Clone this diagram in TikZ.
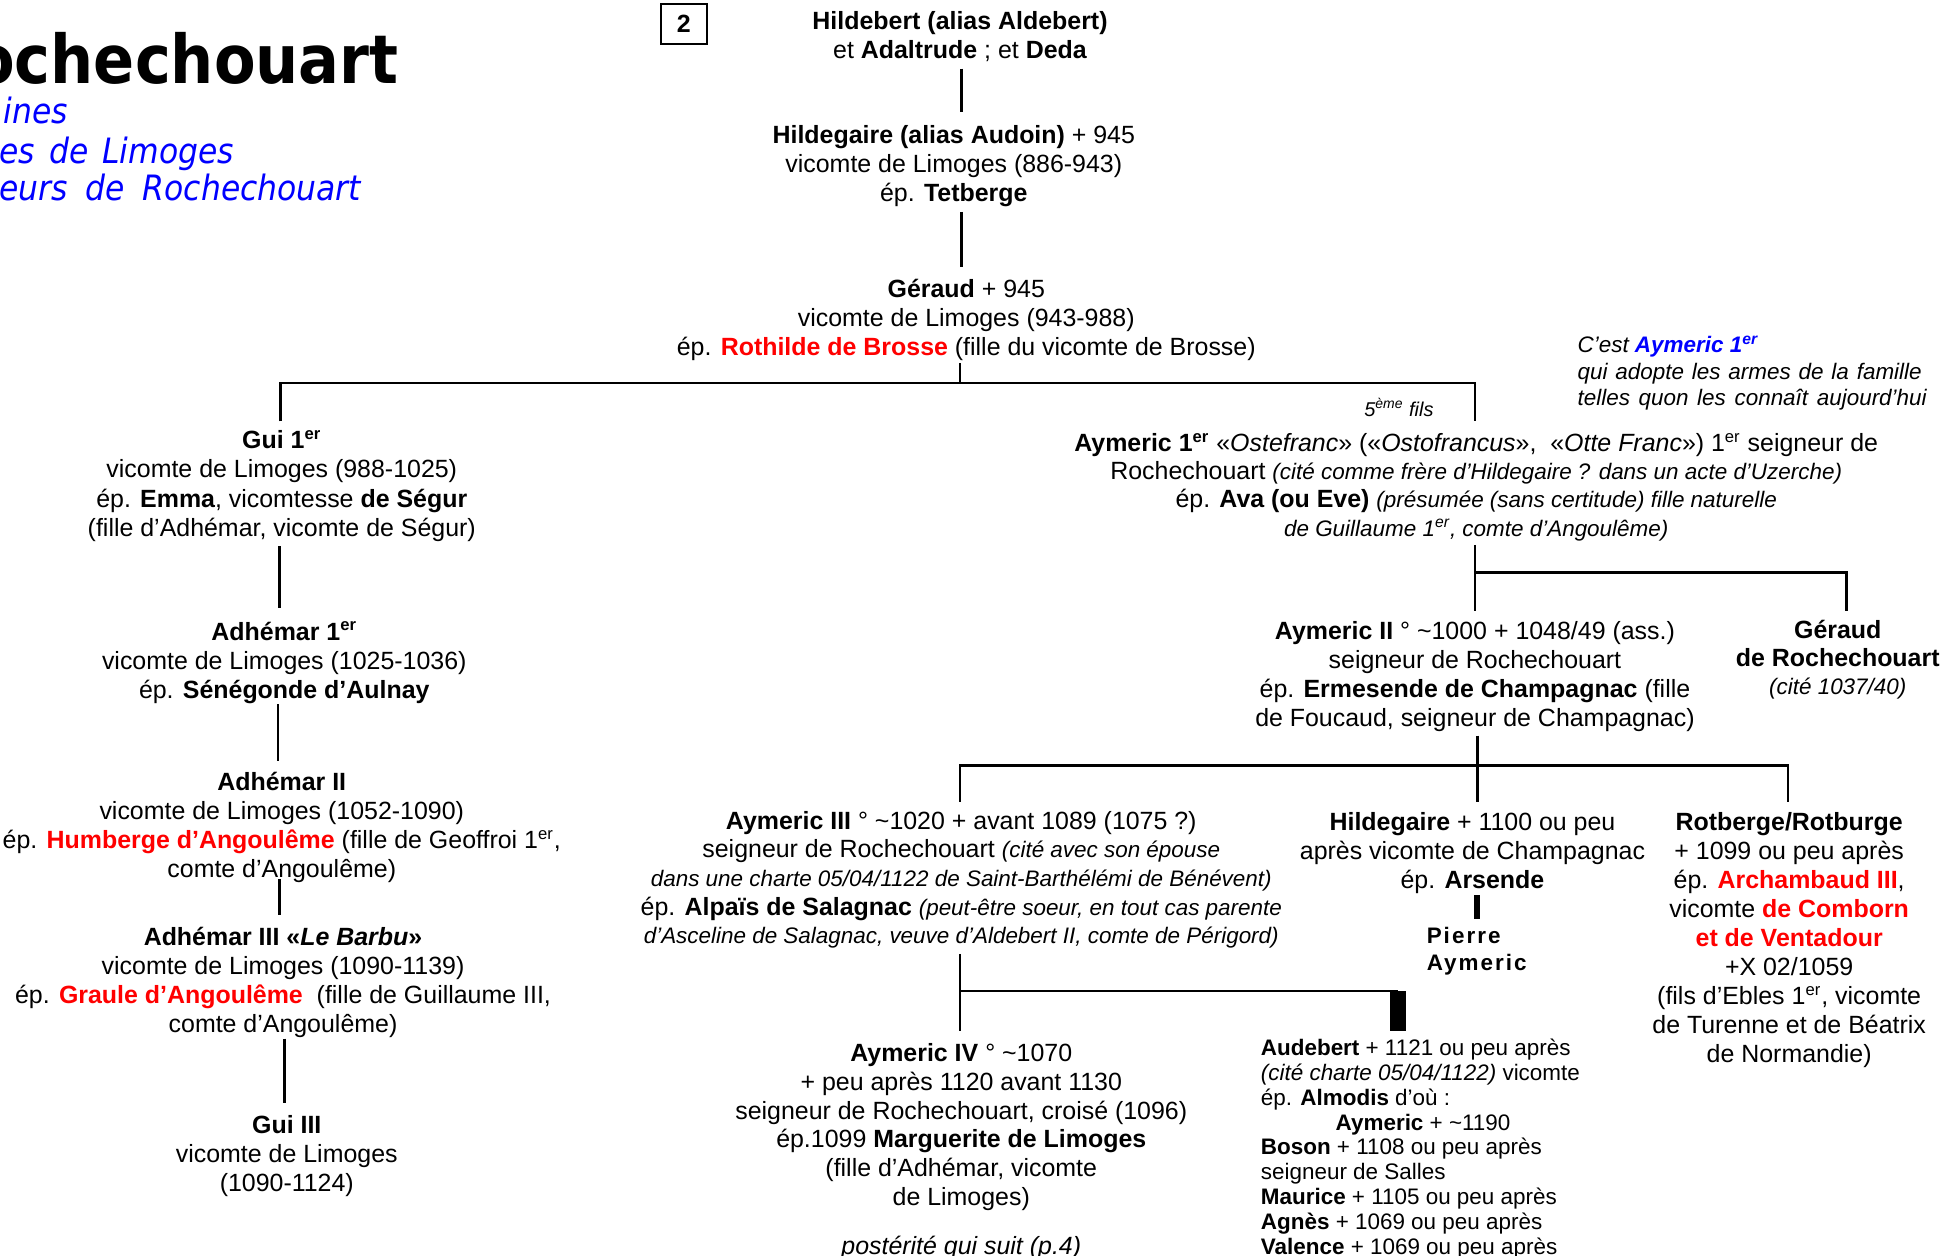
\documentclass[tikz,border=0pt]{standalone}
\usepackage{fontspec}
\setmainfont{Liberation Sans}
\newfontfamily\titlefont[FakeStretch=0.9]{DejaVu Sans}
\newfontfamily\spacedfont[LetterSpace=9]{Liberation Sans}
\definecolor{myred}{RGB}{255,0,0}
\definecolor{myblue}{RGB}{0,0,255}
\newcommand\rd[1]{\textcolor{myred}{\bfseries #1}}
\newcommand\sit[1]{{\fontsize{10.8}{14}\selectfont\itshape #1}}
\newcommand\supEr{\textsuperscript{er}}
\begin{document}
\begin{tikzpicture}[x=0.6pt,y=-0.6pt,
  person/.style={align=center, inner sep=0pt, anchor=base, font=\fontsize{12}{14}\selectfont},
  leftblock/.style={align=left, inner sep=0pt, anchor=base west},
  link/.style={line width=1.2pt}]
\useasboundingbox (0,0) rectangle (1556,1007);

% title
\node[anchor=base east, inner sep=0pt, font={\titlefont\bfseries\fontsize{32.4}{36}\selectfont}] (title) at (320,67) {ochechouart};
\node[anchor=base east, inner sep=0pt, text=myblue, font={\titlefont\itshape\fontsize{16.8}{20}\selectfont}] (sub1) at (55,99) {ines};
\node[anchor=base east, inner sep=0pt, text=myblue, font={\titlefont\itshape\fontsize{16.8}{20}\selectfont}] (sub2) at (188,131) {\makebox[112.8pt][s]{es de Limoges}};
\node[anchor=base east, inner sep=0pt, text=myblue, font={\titlefont\itshape\fontsize{16.8}{20}\selectfont}] (sub3) at (290,161) {\makebox[174pt][s]{eurs de Rochechouart}};

\node[draw, line width=0.9pt, minimum width=22.2pt, minimum height=19.2pt, inner sep=0pt, font={\fontsize{12}{14}\selectfont\bfseries}] (num) at (548.5,19) {2};

% people (anchor = baseline of the last line)
\node[person, font=\fontsize{12}{13.8}\selectfont] (hild) at (770,47) {\textbf{Hildebert (alias Aldebert)}\\et \textbf{Adaltrude} ; et \textbf{Deda}};
\node[person] (hildeg) at (765,162) {\textbf{Hildegaire (alias Audoin)} + 945\\vicomte de Limoges (886-943)\\ép. \textbf{Tetberge}};
\node[person] (gerau) at (775,285) {\textbf{Géraud} + 945\\vicomte de Limoges (943-988)\\ép. \rd{Rothilde de Brosse} (fille du vicomte de Brosse)};

\node[person] (gui1) at (226,430) {\textbf{Gui 1\supEr}\\vicomte de Limoges (988-1025)\\ép. \textbf{Emma}, vicomtesse \textbf{de Ségur}\\(fille d’Adhémar, vicomte de Ségur)};
\node[person] (adh1) at (228,560) {\textbf{Adhémar 1\supEr}\\vicomte de Limoges (1025-1036)\\ép. \textbf{Sénégonde d’Aulnay}};
\node[person] (adh2) at (226,704) {\textbf{Adhémar II}\\vicomte de Limoges (1052-1090)\\ép. \rd{Humberge d’Angoulême} (fille de Geoffroi 1\supEr,\\comte d’Angoulême)};
\node[person] (adh3) at (227,828) {\textbf{Adhémar III «\textit{Le Barbu}»}\\vicomte de Limoges (1090-1139)\\ép. \rd{Graule d’Angoulême}\ \ (fille de Guillaume III,\\comte d’Angoulême)};
\node[person] (gui3) at (230,956) {\textbf{Gui III}\\vicomte de Limoges\\(1090-1124)};

\node[inner sep=0pt, font={\fontsize{9.6}{11}\selectfont\itshape}] (fils) at (1122,327) {5\textsuperscript{ème} fils};
\node[leftblock, font={\fontsize{10.8}{12.6}\selectfont\itshape}] (note) at (1265,325) {C’est \textcolor{myblue}{\bfseries Aymeric 1\supEr}\\\makebox[165.6pt][s]{qui adopte les armes de la famille}\\\makebox[168pt][s]{telles quon les connaît aujourd’hui}};

\node[person, font=\fontsize{12}{13.6}\selectfont] (aym1) at (1184,430) {\textbf{Aymeric 1\supEr} «\textit{Ostefranc}» («\textit{Ostofrancus}»,\ \ «\textit{Otte Franc}») 1\supEr{} seigneur de\\Rochechouart \sit{(cité comme frère d’Hildegaire ? dans un acte d’Uzerche)}\\ép. \textbf{Ava (ou Eve)} \sit{(présumée (sans certitude) fille naturelle}\\\sit{de Guillaume 1\supEr, comte d’Angoulême)}};
\node[person] (aym2) at (1183,583) {\textbf{Aymeric II} ° \textasciitilde1000 + 1048/49 (ass.)\\seigneur de Rochechouart\\ép. \textbf{Ermesende de Champagnac} (fille\\de Foucaud, seigneur de Champagnac)};
\node[person, font=\fontsize{12}{13.5}\selectfont] (gerR) at (1474,557) {\textbf{Géraud}\\\textbf{de Rochechouart}\\\sit{(cité 1037/40)}};

\node[person, font=\fontsize{12}{13.8}\selectfont] (aym3) at (771,757) {\textbf{Aymeric III} ° \textasciitilde1020 + avant 1089 (1075 ?)\\seigneur de Rochechouart \sit{(cité avec son épouse}\\\sit{dans une charte 05/04/1122 de Saint-Barthélémi de Bénévent)}\\ép. \textbf{Alpaïs de Salagnac} \sit{(peut-être soeur, en tout cas parente}\\\sit{d’Asceline de Salagnac, veuve d’Aldebert II, comte de Périgord)}};
\node[person] (hildm) at (1181,713) {\textbf{Hildegaire} + 1100 ou peu\\après vicomte de Champagnac\\ép. \textbf{Arsende}};
\node[leftblock, font={\fontsize{10.8}{12.6}\selectfont\spacedfont\bfseries}] (pierre) at (1144,778) {Pierre\\Aymeric};
\node[person, font=\fontsize{12}{13.95}\selectfont] (rotb) at (1435,852) {\textbf{Rotberge/Rotburge}\\+ 1099 ou peu après\\ép. \rd{Archambaud III},\\vicomte \rd{de Comborn}\\\rd{et de Ventadour}\\+X 02/1059\\(fils d’Ebles 1\supEr, vicomte\\de Turenne et de Béatrix\\de Normandie)};

\node[person, font=\fontsize{12}{13.9}\selectfont] (aym4) at (771,967) {\textbf{Aymeric IV} ° \textasciitilde1070\\+ peu après 1120 avant 1130\\seigneur de Rochechouart, croisé (1096)\\ép.1099 \textbf{Marguerite de Limoges}\\(fille d’Adhémar, vicomte\\de Limoges)};
\node[person, font={\fontsize{12}{14}\selectfont\itshape}] (post) at (771,1006) {postérité qui suit (p.4)};
\node[leftblock, font={\fontsize{10.8}{11.95}\selectfont}] (aude) at (1011,1006) {\textbf{Audebert} + 1121 ou peu après\\\textit{(cité charte 05/04/1122)} vicomte\\ép. \textbf{Almodis} d’où :\\\hspace*{36pt}\textbf{Aymeric} + \textasciitilde1190\\\textbf{Boson} + 1108 ou peu après\\seigneur de Salles\\\textbf{Maurice} + 1105 ou peu après\\\textbf{Agnès} + 1069 ou peu après\\\textbf{Valence} + 1069 ou peu après};

% junction coordinates
\coordinate (a1) at (771,55);  \coordinate (a2) at (771,90);
\coordinate (b1) at (771,170); \coordinate (b2) at (771,214);
\coordinate (c1) at (770,291); \coordinate (c2) at (770,307);
\coordinate (cl) at (225,307); \coordinate (cr) at (1183,307);
\coordinate (cl2) at (225,338); \coordinate (cr2) at (1183,338);
\coordinate (d1) at (224,438); \coordinate (d2) at (224,488);
\coordinate (e1) at (223,565); \coordinate (e2) at (223,610);
\coordinate (f1) at (224,705); \coordinate (f2) at (224,734);
\coordinate (g1) at (228,833); \coordinate (g2) at (228,885);
\coordinate (h1) at (1183,437); \coordinate (h2) at (1183,490);
\coordinate (hm) at (1183,459); \coordinate (hr) at (1481,459); \coordinate (hr2) at (1481,490);
\coordinate (i1) at (1185,590); \coordinate (i2) at (1185,643);
\coordinate (il) at (770,614); \coordinate (ir) at (1434,614);
\coordinate (il2) at (770,643); \coordinate (ir2) at (1434,643);
\coordinate (k1) at (770,765); \coordinate (k2) at (770,827);
\coordinate (km) at (770,795); \coordinate (kr) at (1121,795);
\coordinate (kb1) at (1115,795); \coordinate (kb2) at (1128,827);
\coordinate (p1) at (1182,718); \coordinate (p2) at (1187,737);

\draw[link] (a1) -- (a2);
\draw[link] (b1) -- (b2);
\draw[link] (c1) -- (c2);
\draw[link] (cl2) -- (cl) -- (cr) -- (cr2);
\draw[link] (d1) -- (d2);
\draw[link] (e1) -- (e2);
\draw[link] (f1) -- (f2);
\draw[link] (g1) -- (g2);
\draw[link] (h1) -- (h2);
\draw[link] (hm) -- (hr) -- (hr2);
\draw[link] (i1) -- (i2);
\draw[link] (il2) -- (il) -- (ir) -- (ir2);
\draw[link] (k1) -- (k2);
\draw[link] (km) -- (kr);
\fill (kb1) rectangle (kb2);
\fill (p1) rectangle (p2);
\end{tikzpicture}
\end{document}
